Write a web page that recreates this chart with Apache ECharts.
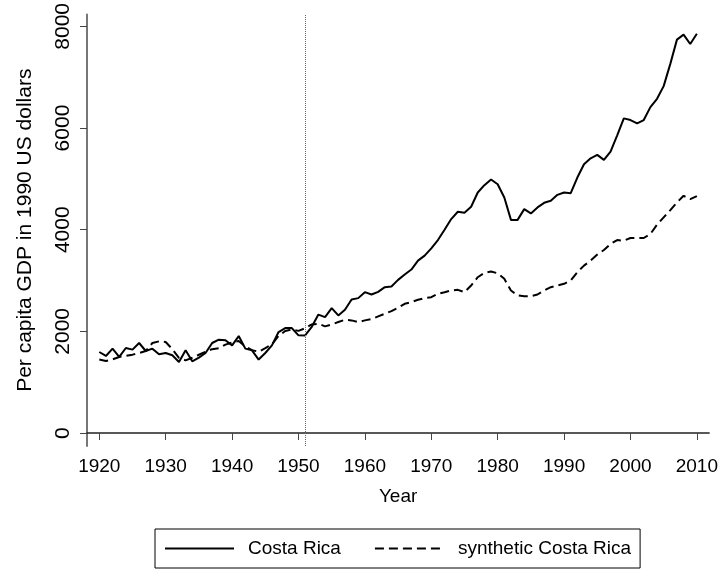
<!DOCTYPE html>
<html lang="en">
<head>
    <meta charset="UTF-8">
    <title>Costa Rica vs synthetic Costa Rica</title>
    <script src="https://cdn.jsdelivr.net/npm/echarts@6.0.0/dist/echarts.min.js"></script>
    <style>
        body, html {
            margin: 0;
            padding: 0;
            width: 100%;
            height: 100%;
            overflow: hidden;
            background-color: #fff;
        }
        #chart {
            width: 721px;
            height: 570px;
        }
    </style>
</head>
<body>
    <div id="chart"></div>
    <script>
        // years 1920..2010
        var years = [];
        for (var y = 1920; y <= 2010; y++) years.push(y);

        // per capita GDP, Costa Rica
        var costaRica = [
            1594, 1516, 1660, 1497, 1673, 1641, 1771, 1614, 1660, 1549,
            1575, 1529, 1398, 1627, 1412, 1484, 1575, 1771, 1837, 1824,
            1725, 1908, 1660, 1627, 1445, 1575, 1725, 1987, 2065, 2065,
            1922, 1920, 2090, 2330, 2281, 2458, 2314, 2425, 2627, 2654,
            2771, 2725, 2778, 2869, 2882, 3013, 3118, 3216, 3392, 3490,
            3634, 3797, 4000, 4209, 4353, 4333, 4451, 4732, 4876, 4987,
            4895, 4634, 4193, 4193, 4405, 4320, 4438, 4529, 4568, 4686,
            4732, 4719, 5026, 5288, 5405, 5471, 5373, 5536, 5856, 6190,
            6157, 6092, 6157, 6412, 6575, 6824, 7262, 7739, 7837, 7653,
            7856
        ];

        // per capita GDP, synthetic Costa Rica
        var synthetic = [
            1445, 1418, 1450, 1497, 1516, 1542, 1575, 1614, 1771, 1804,
            1791, 1650, 1480, 1430, 1480, 1540, 1600, 1650, 1670, 1740,
            1780, 1810, 1700, 1630, 1600, 1670, 1745, 1910, 2006, 2039,
            2010, 2060, 2137, 2150, 2098, 2137, 2183, 2229, 2216, 2183,
            2216, 2242, 2294, 2346, 2399, 2464, 2542, 2575, 2621, 2654,
            2673, 2739, 2771, 2804, 2817, 2771, 2902, 3065, 3150, 3176,
            3144, 3033, 2804, 2710, 2693, 2693, 2725, 2804, 2869, 2902,
            2935, 3000, 3163, 3294, 3392, 3510, 3601, 3719, 3797, 3784,
            3837, 3837, 3837, 3915, 4098, 4242, 4386, 4536, 4667, 4601,
            4660
        ];

        var xTicks = [1920, 1930, 1940, 1950, 1960, 1970, 1980, 1990, 2000, 2010];
        var yTicks = [0, 2000, 4000, 6000, 8000];
        var treatmentYear = 1951;

        function pairs(vals) {
            return years.map(function (yr, i) { return [yr, vals[i]]; });
        }

        var font = 'Liberation Sans, Arial, sans-serif';

        var option = {
            backgroundColor: '#fff',
            animation: false,
            grid: { left: 87, right: 10, top: 13, bottom: 124 },
            legend: {
                left: 155,
                top: 529,
                orient: 'horizontal',
                padding: [10, 9, 10, 9],
                borderColor: '#000',
                borderWidth: 1,
                itemWidth: 69,
                itemHeight: 19,
                itemGap: 33,
                itemStyle: { opacity: 0 },   // hide the marker dot, keep the line
                textStyle: { fontFamily: font, fontSize: 19, color: '#000', padding: [0, 0, 0, 9] },
                data: ['Costa Rica', 'synthetic Costa Rica']
            },
            xAxis: {
                type: 'value',
                min: 1918.15,
                max: 2011.85,
                name: 'Year',
                nameLocation: 'middle',
                nameGap: 41,
                nameTextStyle: { fontFamily: font, fontSize: 19, color: '#000' },
                axisLine: { show: true, lineStyle: { color: '#222', width: 1.5 } },
                axisTick: { show: true, length: 7, customValues: xTicks, lineStyle: { color: '#444' } },
                axisLabel: {
                    customValues: xTicks,
                    margin: 11,
                    fontFamily: font,
                    fontSize: 19,
                    color: '#000',
                    formatter: function (v) { return String(v); }
                },
                splitLine: { show: false }
            },
            yAxis: {
                type: 'value',
                min: -255,
                max: 8235,
                name: 'Per capita GDP in 1990 US dollars',
                nameLocation: 'middle',
                nameGap: 51,
                nameTextStyle: { fontFamily: font, fontSize: 21, color: '#000' },
                axisLine: { show: true, lineStyle: { color: '#777', width: 2 } },
                axisTick: { show: true, length: 7, customValues: yTicks, lineStyle: { color: '#444' } },
                axisLabel: {
                    customValues: yTicks,
                    rotate: 90,
                    margin: 13,
                    fontFamily: font,
                    fontSize: 21,
                    color: '#000',
                    formatter: function (v) { return String(v); }
                },
                splitLine: { show: false }
            },
            series: [
                {
                    name: 'Costa Rica',
                    type: 'line',
                    data: pairs(costaRica),
                    symbol: 'none',
                    showSymbol: false,
                    lineStyle: { color: '#000', width: 2 },
                    itemStyle: { color: '#000' },
                    markLine: {
                        silent: true,
                        symbol: ['none', 'none'],
                        label: { show: false },
                        lineStyle: { color: '#666', type: 'dotted', width: 1 },
                        data: [{ xAxis: treatmentYear }]
                    }
                },
                {
                    name: 'synthetic Costa Rica',
                    type: 'line',
                    data: pairs(synthetic),
                    symbol: 'none',
                    showSymbol: false,
                    lineStyle: { color: '#000', width: 2, type: [9, 5] },
                    itemStyle: { color: '#000' }
                }
            ]
        };

        var chart = echarts.init(document.getElementById('chart'));
        chart.setOption(option);
    </script>
</body>
</html>
